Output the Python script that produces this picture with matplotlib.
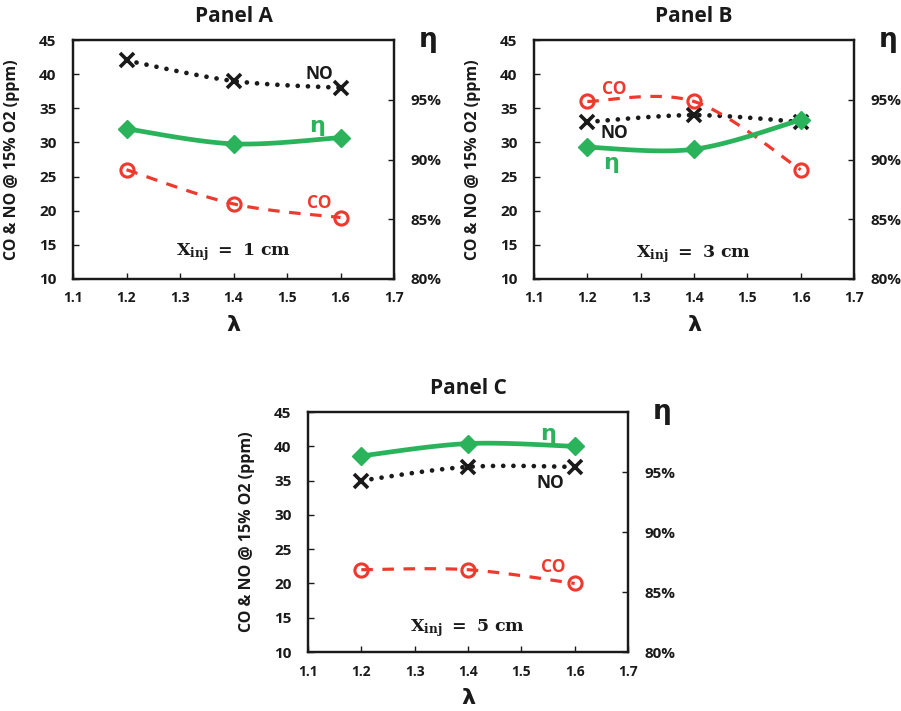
import numpy as np
import matplotlib
matplotlib.use('Agg')
import matplotlib.pyplot as plt

plt.rcParams['font.family'] = ['Open Sans', 'DejaVu Sans']
plt.rcParams['font.weight'] = 'bold'
plt.rcParams['mathtext.fontset'] = 'dejavuserif'

lam = [1.2, 1.4, 1.6]

# CO / NO in ppm (left axis), eta as fraction (right axis)
no_a = [42, 39, 38]
co_a = [26, 21, 19]
eta_a = [0.9257, 0.9131, 0.9183]

no_b = [33, 34, 33]
co_b = [36, 36, 26]
eta_b = [0.9103, 0.9086, 0.9331]

no_c = [35, 37, 37]
co_c = [22, 22, 20]
eta_c = [0.9634, 0.9737, 0.9714]

xticks = [1.1, 1.2, 1.3, 1.4, 1.5, 1.6, 1.7]
yticks = [10, 15, 20, 25, 30, 35, 40, 45]
eta_ticks = [0.80, 0.85, 0.90, 0.95]

GREEN = '#2BB35C'
RED = '#EE3A2E'
BLACK = '#1A1A1A'


def smooth(x, y, sx, sy, n=40):
    # excel style smoothed line (bezier with catmull-rom controls)
    p = np.column_stack([np.asarray(x, float) * sx, np.asarray(y, float) * sy])
    pts = np.vstack([p[0], p, p[-1]])
    t = np.linspace(0, 1, n)[:, None]
    out = []
    for i in range(1, len(pts) - 2):
        p0, p3 = pts[i], pts[i + 1]
        c1 = p0 + (pts[i + 1] - pts[i - 1]) / 6
        c2 = p3 - (pts[i + 2] - pts[i]) / 6
        out.append((1 - t)**3 * p0 + 3 * (1 - t)**2 * t * c1
                   + 3 * (1 - t) * t**2 * c2 + t**3 * p3)
    out = np.vstack(out)
    return out[:, 0] / sx, out[:, 1] / sy


fig = plt.figure(figsize=(9.01, 7.11), dpi=100)
W, H = 901, 711


def panel(px, title, no, co, eta, xinj, lab):
    left, top, w, h = px
    ax = fig.add_axes([left / W, 1 - (top + h) / H, w / W, h / H])
    ax2 = ax.twinx()
    sx = w / 0.6
    sy = h / 35.0

    xs, ys = smooth(lam, no, sx, sy)
    ax.plot(xs, ys, color=BLACK, lw=3.4, linestyle=(0, (0.01, 2.15)),
            dash_capstyle='round')
    ax.plot(lam, no, 'x', color=BLACK, ms=10, mew=2.6)

    xs, ys = smooth(lam, co, sx, sy)
    ax.plot(xs, ys, color=RED, lw=2.3, linestyle=(0, (3.6, 3.0)))
    ax.plot(lam, co, 'o', color=RED, mfc='none', ms=9.5, mew=2.2)

    xs, ys = smooth(lam, eta, sx, h / 0.2)
    ax2.plot(xs, ys, color=GREEN, lw=3.4, solid_capstyle='round')
    ax2.plot(lam, eta, 'D', color=GREEN, ms=9.5)

    ax.set_xlim(1.1, 1.7)
    ax.set_ylim(10, 45)
    ax2.set_ylim(0.80, 1.00)
    ax.set_xticks(xticks)
    ax.set_xticklabels(['%.1f' % v for v in xticks])
    ax.set_yticks(yticks)
    ax2.set_yticks(eta_ticks)
    ax2.set_yticklabels(['%d%%' % round(v * 100) for v in eta_ticks])

    ax.tick_params(axis='x', direction='in', length=4, width=1, pad=9,
                   labelsize=10, colors=BLACK)
    ax.tick_params(axis='y', direction='in', length=4, width=1, pad=12,
                   labelsize=11, colors=BLACK)
    ax2.tick_params(axis='y', direction='in', length=4, width=1, pad=12,
                    labelsize=11, colors=BLACK)
    for a in (ax, ax2):
        for s in a.spines.values():
            s.set_linewidth(1.6)
            s.set_color(BLACK)

    ax.set_ylabel('CO & NO @ 15% O2 (ppm)', fontsize=11.5, fontweight='bold',
                  color=BLACK)
    ax.yaxis.set_label_coords(-53 / w, 0.5)
    ax.set_xlabel('λ', fontsize=16, fontweight='bold', color=BLACK,
                  family=['DejaVu Sans'])
    ax.xaxis.set_label_coords(0.5, -36 / h)

    ax.text(1 + 34 / w, 1.0, 'η', transform=ax.transAxes, fontsize=19,
            fontweight='bold', ha='center', va='center', color=BLACK,
            family=['DejaVu Sans'])
    ax.text(0.5, 1 + 24 / h, title, transform=ax.transAxes, fontsize=15,
            fontweight='bold', ha='center', va='center', color=BLACK)

    ax.text(lab['NO'][0], lab['NO'][1], 'NO', fontsize=12.5, fontweight='bold',
            color=BLACK, ha='center', va='center')
    ax.text(lab['CO'][0], lab['CO'][1], 'CO', fontsize=12.5, fontweight='bold',
            color=RED, ha='center', va='center')
    ax.text(lab['eta'][0], lab['eta'][1], 'η', fontsize=16, fontweight='bold',
            color=GREEN, ha='center', va='center', family=['DejaVu Sans'])
    ax.text(1.4, lab['x'], r'$\mathbf{X_{inj}\ =\ %d\ cm}$' % xinj,
            fontsize=12.5, color=BLACK, ha='center', va='center')
    ax2.set_zorder(ax.get_zorder() + 1)
    return ax


panel((73, 40, 321, 239), 'Panel A', no_a, co_a, eta_a, 1,
      {'NO': (1.56, 40.0), 'CO': (1.56, 21.1), 'eta': (1.556, 32.4), 'x': 14.0})
panel((534, 40, 320, 239), 'Panel B', no_b, co_b, eta_b, 3,
      {'NO': (1.25, 31.4), 'CO': (1.25, 37.8), 'eta': (1.245, 27.0), 'x': 13.7})
panel((308, 412, 320, 240), 'Panel C', no_c, co_c, eta_c, 5,
      {'NO': (1.555, 34.6), 'CO': (1.56, 22.4), 'eta': (1.55, 41.8), 'x': 13.5})

fig.savefig('out.png', dpi=100)
